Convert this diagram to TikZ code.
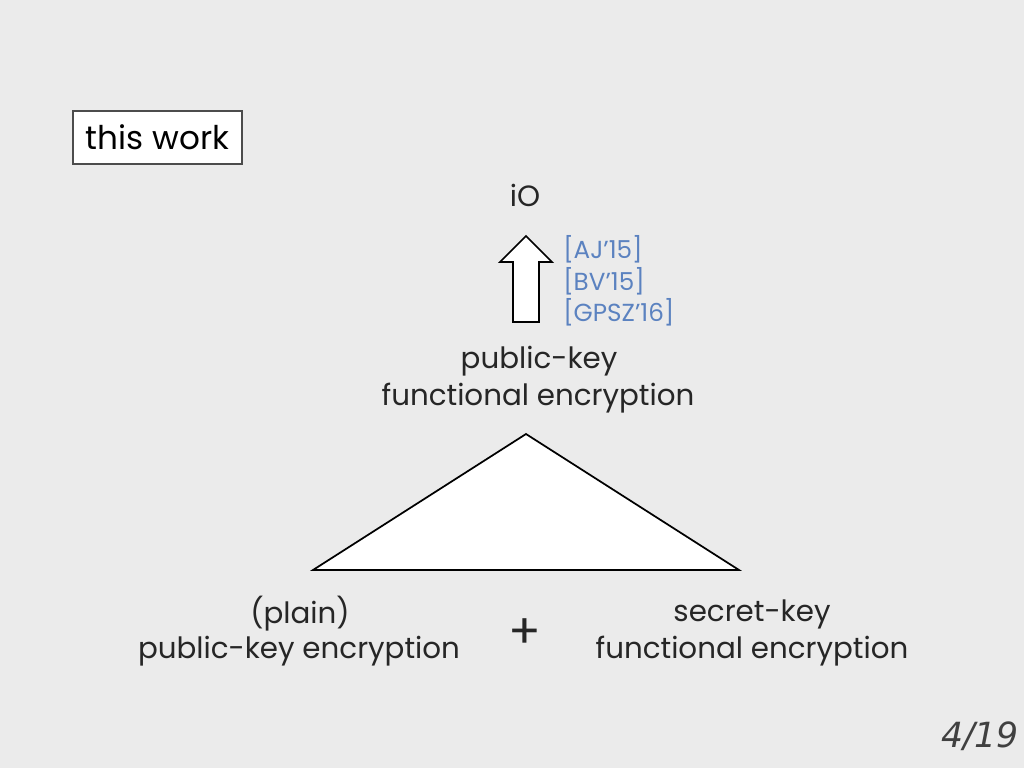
\documentclass[tikz,border=0pt]{standalone}
\usepackage{fontspec}
\setmainfont{Poppins}
\newfontfamily\pagefont{DejaVu Sans}
\definecolor{bg}{HTML}{EBEBEB}
\definecolor{txt}{HTML}{262626}
\definecolor{cite}{HTML}{5B82C0}
\tikzset{
  lbl/.style={text=txt, font=\fontsize{22}{26}\selectfont, inner sep=0pt, align=center},
  citelbl/.style={text=cite, font=\fontsize{18.5}{21}\selectfont, inner sep=0pt, anchor=west},
  shapeline/.style={draw=black, fill=white, line width=1.3pt, line join=miter}
}
\begin{document}
\begin{tikzpicture}[x=0.75pt,y=-0.75pt]
\useasboundingbox (0,0) rectangle (1024,768);
\fill[bg] (0,0) rectangle (1024,768);
% this work box
\node[draw=black!70, fill=white, line width=0.8pt, minimum width=169*0.75pt, minimum height=53*0.75pt, inner sep=0pt, text=black, font=\fontsize{24.5}{28}\selectfont] (tw) at (157.5,137.5) {this work};
% iO
\node[lbl] (io) at (525,195) {iO};
% block arrow
\coordinate (tip) at (526,236);
\draw[shapeline] (tip) -- (552,262) -- (539,262) -- (539,322) -- (513,322) -- (513,262) -- (500,262) -- cycle;
% citations
\node[citelbl] (c1) at (563,249) {[AJ’15]};
\node[citelbl] (c2) at (563,281) {[BV’15]};
\node[citelbl] (c3) at (563,312) {[GPSZ’16]};
% pk FE
\node[lbl] (pkfe1) at (539,361) {public-key};
\node[lbl] (pkfe2) at (538,398) {functional encryption};
% triangle
\coordinate (apex) at (526,434);
\coordinate (bl) at (313,570);
\coordinate (br) at (739,570);
\draw[shapeline] (apex) -- (br) -- (bl) -- cycle;
% bottom
\node[lbl] (pl1) at (300,614) {(plain)};
\node[lbl] (pl2) at (299,651) {public-key encryption};
\node[lbl, font=\fontsize{36}{40}\selectfont\addfontfeature{Weight=300}] (plus) at (525,634) {+};
\node[lbl] (sk1) at (752,614) {secret-key};
\node[lbl] (sk2) at (752,651) {functional encryption};
% page number
\node[text=black!75, font=\pagefont\itshape\fontsize{26}{30}\selectfont, inner sep=0pt] (pg) at (980,736) {4/19};
\end{tikzpicture}
\end{document}
